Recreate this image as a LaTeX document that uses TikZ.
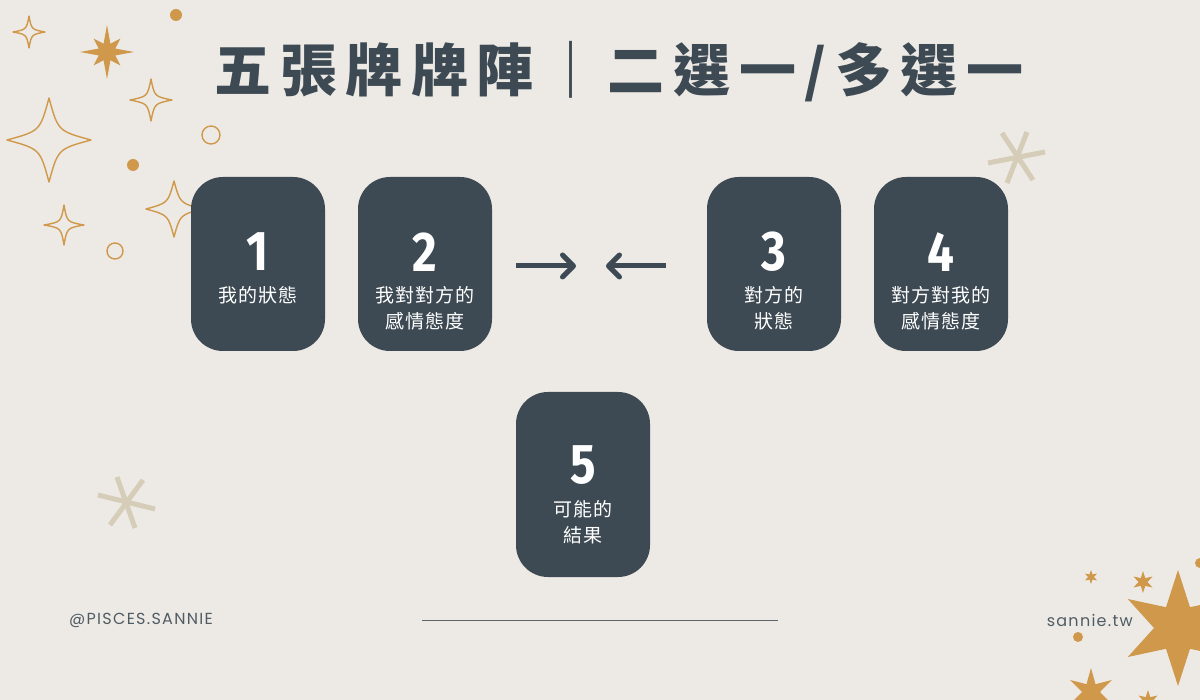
\documentclass[tikz,border=0pt]{standalone}
\usepackage{fontspec}
\newfontfamily\cjk{Noto Sans CJK TC}[LetterSpace=4]
\newfontfamily\cjkheavy{Noto Sans CJK TC Black}[LetterSpace=15]
\newfontfamily\numfont{Fira Sans}
\newfontfamily\footfont{Poppins}[LetterSpace=8]
\usetikzlibrary{arrows.meta, calc}

\definecolor{bgpaper}{HTML}{EDEAE6}
\definecolor{slate}{HTML}{3D4A53}
\definecolor{ochre}{HTML}{D0984A}
\definecolor{sand}{HTML}{D6CDB8}
\definecolor{rulegray}{HTML}{5E656B}

\newcommand\sparkle[4]{\draw[sparkline, shift={(#1,#2)}] (0,-#3) .. controls (#4,-#4) .. (#3,0) .. controls (#4,#4) .. (0,#3) .. controls (-#4,#4) .. (-#3,0) .. controls (-#4,-#4) .. (0,-#3) -- cycle;}
\newcommand\goldstar[6]{\fill[ochre, shift={(#1,#2)}, rotate=#6] (90:#4) \foreach \k in {1,...,#3}{ -- ({90+(\k-0.5)*360/#3}:#5) -- ({90+\k*360/#3}:#4)} -- cycle;}

\begin{document}
\begin{tikzpicture}[
    x=1pt, y=-1pt,
    card/.style={rectangle, rounded corners=32pt, fill=slate, minimum width=134pt, minimum height=174pt, inner sep=0pt},
    num/.style={text=white, inner sep=0pt, font=\numfont\bfseries\fontsize{56}{56}\selectfont, xscale=0.85},
    lbl/.style={text=white, inner sep=0pt, anchor=north, align=center, font=\cjk\fontsize{19}{26}\selectfont},
    title/.style={text=slate, inner sep=0pt, font=\cjkheavy\fontsize{57}{57}\selectfont},
    foot/.style={text=slate!90, inner sep=0pt, font=\footfont\fontsize{16}{16}\selectfont},
    arr/.style={-{Straight Barb[length=11pt, width=22pt, line cap=round, round]}, draw=slate, line width=5pt},
    sparkline/.style={draw=ochre, line width=1.4pt, line join=round},
    asterline/.style={draw=sand, line width=5pt}
  ]
    \useasboundingbox (0,0) rectangle (1200,700);
    \fill[bgpaper] (0,0) rectangle (1200,700);

    \sparkle{29}{32}{16}{2.5}
    \sparkle{151}{100}{21}{3.5}
    \sparkle{49}{140}{42}{9}
    \sparkle{174}{209}{28}{6}
    \sparkle{64}{225}{20}{3}
    \draw[sparkline] (211,135) circle[radius=9];
    \draw[sparkline] (115,251) circle[radius=8];
    \fill[ochre] (176,15) circle[radius=6];
    \fill[ochre] (133,165) circle[radius=6];
    \fill[ochre, shift={(107,52)}] (0:27) \foreach \k [evaluate=\k as \r using {mod(\k,2)==0 ? 27 : 19}] in {1,...,8}{ -- ({\k*45-22.5}:9) -- ({\k*45}:\r)} -- cycle;

    \draw[asterline] (1002,133) -- (1033,180);
    \draw[asterline] (1027,132) -- (1007,183);
    \draw[asterline] (988,163) -- (1045,152);
    \draw[asterline] (117,477) -- (135,528);
    \draw[asterline] (143,480) -- (110,525);
    \draw[asterline] (98,495) -- (155,509);

    \goldstar{1178}{628}{6}{58}{24}{0}
    \goldstar{1091}{577}{6}{7}{3}{0}
    \goldstar{1143}{582}{6}{11}{4.5}{0}
    \goldstar{1091}{692}{6}{24}{9}{0}
    \goldstar{1148}{701}{6}{11}{4.5}{0}
    \fill[ochre] (1078,637) circle[radius=5];
    \fill[ochre] (1200,563) circle[radius=5];

    \node[title] (title) at (619,72) {五張牌牌陣｜二選一/多選一};

    \node[card] (c1) at (258,264) {};
    \node[card] (c2) at (425,264) {};
    \node[card] (c3) at (774,264) {};
    \node[card] (c4) at (941,264) {};
    \node[card, minimum height=185pt] (c5) at (583,484.5) {};

    \node[num] (n1) at (258,252) {1};
    \node[num] (n2) at (425,252) {2};
    \node[num] (n3) at (774,252) {3};
    \node[num] (n4) at (941,252) {4};
    \node[num] (n5) at (583,465) {5};

    \node[lbl] (t1) at (258,286) {我的狀態};
    \node[lbl] (t2) at (425,286) {我對對方的\\感情態度};
    \node[lbl] (t3) at (774,286) {對方的\\狀態};
    \node[lbl] (t4) at (941,286) {對方對我的\\感情態度};
    \node[lbl] (t5) at (583,500) {可能的\\結果};

    \coordinate (r1) at (516,266);
    \coordinate (r2) at (576,266);
    \coordinate (l1) at (666,266);
    \coordinate (l2) at (606,266);
    \draw[arr] (r1) -- (r2);
    \draw[arr] (l1) -- (l2);

    \node[foot, anchor=west] (handle) at (69,620) {@PISCES.SANNIE};
    \node[foot, anchor=east] (site) at (1133,620) {sannie.tw};
    \draw[rulegray, line width=1pt] (422,620) -- (778,620);
  \end{tikzpicture}
\end{document}
